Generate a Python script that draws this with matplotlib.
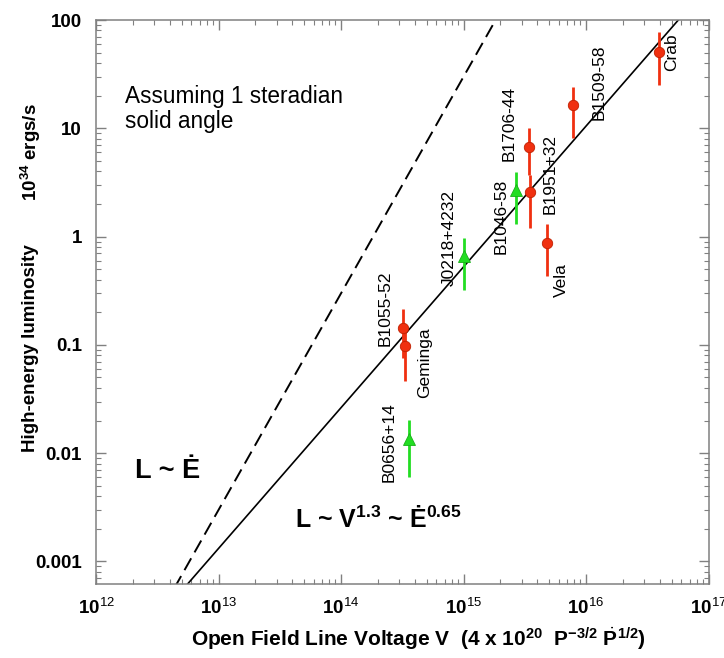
import numpy as np
import matplotlib
matplotlib.use("Agg")
import matplotlib.pyplot as plt
from matplotlib.ticker import LogLocator, NullFormatter, FixedLocator, FuncFormatter

plt.rcParams['font.family'] = ['Liberation Sans', 'DejaVu Sans']
plt.rcParams['mathtext.fontset'] = 'custom'
plt.rcParams['mathtext.rm'] = 'Liberation Sans'
plt.rcParams['mathtext.bf'] = 'Liberation Sans:bold'
plt.rcParams['mathtext.it'] = 'Liberation Sans:italic'

# Pulsars de la muestra (círculos rojos)
red_names = ["Crab", "B1509-58", "B1706-44", "B1951+32", "Vela", "B1055-52", "Geminga"]
red_v = [3.94e16, 7.82e15, 3.40e15, 3.49e15, 4.83e15, 3.21e14, 3.33e14]
red_l = [50.9, 16.3, 6.76, 2.56, 0.879, 0.142, 0.0977]
red_lo = [25.1, 8.09, 3.7, 1.21, 0.433, 0.0757, 0.0467]
red_hi = [77.0, 24.2, 10.1, 3.7, 1.31, 0.213, 0.137]

# Candidatos (triángulos verdes)
green_names = ["B1046-58", "J0218+4232", "B0656+14"]
green_v = [2.70e15, 1.0e15, 3.59e14]
green_l = [2.69, 0.655, 0.0134]
green_lo = [1.31, 0.321, 0.00607]
green_hi = [3.92, 0.97, 0.0203]

# Posición de las etiquetas (V, L)
label_pos = {
    "Crab": (4.99e16, 50.7),
    "B1509-58": (1.27e16, 26.8),
    "B1706-44": (2.34e15, 11.2),
    "B1951+32": (5.05e15, 3.79),
    "Vela": (6.32e15, 0.397),
    "B1046-58": (2.01e15, 1.55),
    "J0218+4232": (7.71e14, 0.971),
    "B1055-52": (2.28e14, 0.219),
    "Geminga": (4.83e14, 0.068),
    "B0656+14": (2.45e14, 0.0127),
}

# Leyes de potencia L = K * V^n
K_v13 = 1.66e-20   # L ~ V^1.3
K_edot = 2.99e-29  # L ~ Edot ~ V^2

fig = plt.figure(figsize=(7.24, 6.58), dpi=100)
ax = fig.add_axes([0.1326, 0.1125, 0.8460, 0.8571])
ax.set_xscale('log')
ax.set_yscale('log')
ax.set_xlim(1e12, 1e17)
ax.set_ylim(6.2e-4, 100)

vv = np.logspace(12, 17, 200)
ax.plot(vv, K_v13 * vv ** 1.3, color='black', lw=1.2, zorder=2)
ax.plot(vv, K_edot * vv ** 2, color='black', lw=1.4, ls=(0, (7, 3.5)), zorder=2)

red = '#f03010'
green = '#22dd22'

for v, l, lo, hi in zip(red_v, red_l, red_lo, red_hi):
    ax.plot([v, v], [lo, hi], color=red, lw=2.0, solid_capstyle='butt', zorder=3)
ax.plot(red_v, red_l, 'o', color=red, markeredgecolor='#c02000', markeredgewidth=0.6,
        markersize=7.5, zorder=4)

for v, l, lo, hi in zip(green_v, green_l, green_lo, green_hi):
    ax.plot([v, v], [lo, hi], color=green, lw=2.0, solid_capstyle='butt', zorder=3)
ax.plot(green_v, green_l, '^', color=green, markeredgecolor='#18b018', markeredgewidth=0.6,
        markersize=8, zorder=4)

for name, (x, y) in label_pos.items():
    ax.text(x, y, name, rotation=90, ha='center', va='center', fontsize=12.5, zorder=5)

# Textos explicativos
ax.text(0.047, 0.885, "Assuming 1 steradian\nsolid angle", transform=ax.transAxes,
        ha='left', va='top', fontsize=16.3, linespacing=1.1)
ax.text(0.064, 0.188, "L ~ Ė", transform=ax.transAxes, ha='left', va='baseline',
        fontsize=19.5, fontweight='bold')
ax.text(0.325, 0.099, r"L ~ V$^{\mathbf{1.3}}$ ~ Ė$^{\mathbf{0.65}}$", transform=ax.transAxes,
        ha='left', va='baseline', fontsize=18, fontweight='bold')

# Ejes
ax.xaxis.set_major_locator(FixedLocator([1e12, 1e13, 1e14, 1e15, 1e16, 1e17]))
ax.xaxis.set_minor_locator(LogLocator(base=10, subs=np.arange(2, 10), numticks=20))
ax.xaxis.set_major_formatter(FuncFormatter(lambda v, p: r"$\mathbf{10}^{\mathrm{%d}}$" % round(np.log10(v))))
ax.xaxis.set_minor_formatter(NullFormatter())

y_ticks = [0.001, 0.01, 0.1, 1, 10, 100]
y_tick_labels = ["0.001", "0.01", "0.1", "1", "10", "100"]
ax.set_yticks(y_ticks)
ax.set_yticklabels(y_tick_labels)
ax.yaxis.set_minor_locator(LogLocator(base=10, subs=np.arange(2, 10), numticks=20))
ax.yaxis.set_minor_formatter(NullFormatter())

ax.tick_params(which='both', direction='in', top=True, right=True, color='#808080')
ax.tick_params(which='major', length=7, width=1.0, pad=10, labelsize=13.5)
ax.tick_params(which='minor', length=3.5, width=0.8)
for lab in ax.get_yticklabels():
    lab.set_fontweight('bold')
for sp in ax.spines.values():
    sp.set_color('#808080')
    sp.set_linewidth(1.1)

ax.set_xlabel(r"Open Field Line Voltage V  (4 x 10$^{\mathbf{20}}$  P$^{\mathbf{-3/2}}$ $\dot{\mathbf{P}}^{\mathbf{1/2}}$)",
              fontsize=15, fontweight='bold')
ax.xaxis.set_label_coords(0.527, -0.074)

fig.text(31 / 724, 1 - 348 / 658, "High-energy luminosity", rotation=90, ha='center', va='center',
         fontsize=13.5, fontweight='bold')
fig.text(31 / 724, 1 - 152 / 658, r"10$^{\mathbf{34}}$ ergs/s", rotation=90, ha='center', va='center',
         fontsize=13.5, fontweight='bold')

fig.savefig("out.png", dpi=100)
